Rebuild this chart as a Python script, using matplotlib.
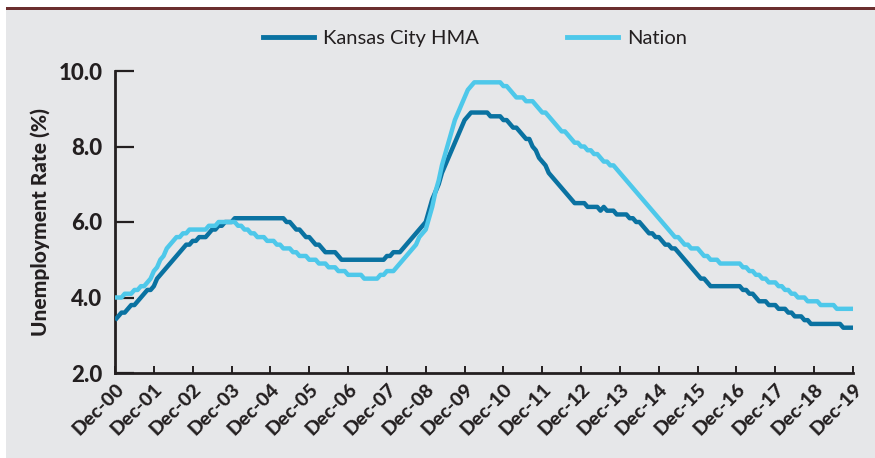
import matplotlib
matplotlib.use("Agg")
import matplotlib.pyplot as plt
from matplotlib.lines import Line2D
from matplotlib.patches import Rectangle

# 12-month average unemployment rate, monthly, Dec-2000 .. Dec-2019
kc_start = [3.4]  # Dec-00
kc_years = {
    2001: [3.5, 3.6, 3.6, 3.7, 3.8, 3.8, 3.9, 4.0, 4.1, 4.2, 4.2, 4.3],
    2002: [4.5, 4.6, 4.7, 4.8, 4.9, 5.0, 5.1, 5.2, 5.3, 5.4, 5.4, 5.5],
    2003: [5.5, 5.6, 5.6, 5.6, 5.7, 5.8, 5.8, 5.9, 5.9, 6.0, 6.0, 6.0],
    2004: [6.1, 6.1, 6.1, 6.1, 6.1, 6.1, 6.1, 6.1, 6.1, 6.1, 6.1, 6.1],
    2005: [6.1, 6.1, 6.1, 6.1, 6.0, 6.0, 5.9, 5.8, 5.8, 5.7, 5.6, 5.6],
    2006: [5.5, 5.4, 5.4, 5.3, 5.2, 5.2, 5.2, 5.2, 5.1, 5.0, 5.0, 5.0],
    2007: [5.0, 5.0, 5.0, 5.0, 5.0, 5.0, 5.0, 5.0, 5.0, 5.0, 5.0, 5.1],
    2008: [5.1, 5.2, 5.2, 5.2, 5.3, 5.4, 5.5, 5.6, 5.7, 5.8, 5.9, 6.0],
    2009: [6.3, 6.6, 6.8, 7.0, 7.3, 7.5, 7.7, 7.9, 8.1, 8.3, 8.5, 8.7],
    2010: [8.8, 8.9, 8.9, 8.9, 8.9, 8.9, 8.9, 8.8, 8.8, 8.8, 8.8, 8.7],
    2011: [8.7, 8.6, 8.5, 8.5, 8.4, 8.3, 8.2, 8.2, 8.0, 7.9, 7.7, 7.6],
    2012: [7.5, 7.3, 7.2, 7.1, 7.0, 6.9, 6.8, 6.7, 6.6, 6.5, 6.5, 6.5],
    2013: [6.5, 6.4, 6.4, 6.4, 6.4, 6.3, 6.4, 6.3, 6.3, 6.3, 6.2, 6.2],
    2014: [6.2, 6.2, 6.1, 6.1, 6.0, 6.0, 5.9, 5.8, 5.7, 5.7, 5.6, 5.6],
    2015: [5.5, 5.4, 5.4, 5.3, 5.3, 5.2, 5.1, 5.0, 4.9, 4.8, 4.7, 4.6],
    2016: [4.5, 4.5, 4.4, 4.3, 4.3, 4.3, 4.3, 4.3, 4.3, 4.3, 4.3, 4.3],
    2017: [4.3, 4.2, 4.2, 4.1, 4.1, 4.0, 3.9, 3.9, 3.9, 3.8, 3.8, 3.8],
    2018: [3.7, 3.7, 3.7, 3.6, 3.6, 3.5, 3.5, 3.5, 3.4, 3.4, 3.3, 3.3],
    2019: [3.3, 3.3, 3.3, 3.3, 3.3, 3.3, 3.3, 3.3, 3.2, 3.2, 3.2, 3.2],
}

nation_start = [4.0]  # Dec-00
nation_years = {
    2001: [4.0, 4.0, 4.1, 4.1, 4.1, 4.2, 4.2, 4.3, 4.3, 4.4, 4.5, 4.7],
    2002: [4.8, 5.0, 5.1, 5.3, 5.4, 5.5, 5.6, 5.6, 5.7, 5.7, 5.8, 5.8],
    2003: [5.8, 5.8, 5.8, 5.8, 5.9, 5.9, 5.9, 6.0, 6.0, 6.0, 6.0, 6.0],
    2004: [6.0, 5.9, 5.9, 5.8, 5.8, 5.7, 5.7, 5.6, 5.6, 5.6, 5.5, 5.5],
    2005: [5.5, 5.4, 5.4, 5.3, 5.3, 5.3, 5.2, 5.2, 5.1, 5.1, 5.1, 5.0],
    2006: [5.0, 5.0, 4.9, 4.9, 4.9, 4.8, 4.8, 4.8, 4.7, 4.7, 4.7, 4.6],
    2007: [4.6, 4.6, 4.6, 4.6, 4.5, 4.5, 4.5, 4.5, 4.5, 4.6, 4.6, 4.7],
    2008: [4.7, 4.7, 4.8, 4.9, 5.0, 5.1, 5.2, 5.3, 5.4, 5.6, 5.7, 5.8],
    2009: [6.1, 6.4, 6.8, 7.1, 7.5, 7.8, 8.1, 8.4, 8.7, 8.9, 9.1, 9.3],
    2010: [9.5, 9.6, 9.7, 9.7, 9.7, 9.7, 9.7, 9.7, 9.7, 9.7, 9.7, 9.6],
    2011: [9.6, 9.5, 9.4, 9.3, 9.3, 9.3, 9.2, 9.2, 9.2, 9.1, 9.0, 8.9],
    2012: [8.9, 8.8, 8.7, 8.6, 8.5, 8.4, 8.4, 8.3, 8.2, 8.1, 8.1, 8.0],
    2013: [8.0, 7.9, 7.9, 7.8, 7.8, 7.7, 7.6, 7.6, 7.5, 7.5, 7.4, 7.3],
    2014: [7.2, 7.1, 7.0, 6.9, 6.8, 6.7, 6.6, 6.5, 6.4, 6.3, 6.2, 6.1],
    2015: [6.0, 5.9, 5.8, 5.7, 5.6, 5.6, 5.5, 5.4, 5.4, 5.3, 5.3, 5.3],
    2016: [5.2, 5.1, 5.1, 5.0, 5.0, 5.0, 4.9, 4.9, 4.9, 4.9, 4.9, 4.9],
    2017: [4.9, 4.8, 4.8, 4.7, 4.7, 4.6, 4.6, 4.5, 4.5, 4.4, 4.4, 4.4],
    2018: [4.3, 4.3, 4.2, 4.2, 4.1, 4.1, 4.0, 4.0, 4.0, 3.9, 3.9, 3.9],
    2019: [3.9, 3.8, 3.8, 3.8, 3.8, 3.8, 3.7, 3.7, 3.7, 3.7, 3.7, 3.7],
}

tick_labels = ["Dec-%02d" % (y % 100) for y in range(2000, 2020)]

kc = kc_start + [v for y in sorted(kc_years) for v in kc_years[y]]
nation = nation_start + [v for y in sorted(nation_years) for v in nation_years[y]]
months = list(range(len(kc)))

bg = "#e6e7e9"
dark = "#0a72a1"
light = "#4ec8ea"
ink = "#231f20"

plt.rcParams["font.family"] = ["Lato", "DejaVu Sans"]

fig = plt.figure(figsize=(8.75, 4.58), dpi=100)
fig.patch.set_facecolor("white")
# grey panel and the dark top rule
fig.patches.append(Rectangle((6 / 875, 0), 1, 1 - 9 / 458, transform=fig.transFigure,
                             facecolor=bg, edgecolor="none", zorder=-20))
fig.patches.append(Rectangle((6 / 875, 1 - 10 / 458), 1, 3 / 458, transform=fig.transFigure,
                             facecolor="#6b2f2f", edgecolor="none", zorder=-19))

ax = fig.add_axes([115 / 875, 1 - 373 / 458, (853 - 115) / 875, (373 - 71) / 458])
ax.set_facecolor("none")
ax.set_zorder(5)

ax.plot(months, kc, color=dark, lw=3.2, solid_capstyle="butt", label="Kansas City HMA", zorder=3)
ax.plot(months, nation, color=light, lw=3.2, solid_capstyle="butt", label="Nation", zorder=4)

ax.set_xlim(0, 228)
ax.set_ylim(2, 10)
ax.set_yticks([2, 4, 6, 8, 10])
ax.set_yticklabels(["%.1f" % v for v in [2, 4, 6, 8, 10]], fontsize=16, fontweight="black", color=ink)
ax.set_xticks(range(0, 229, 12))
ax.set_xticklabels(tick_labels, rotation=45, ha="right", va="top", rotation_mode="anchor",
                   fontsize=14, fontweight="black", color=ink)

for s in ["top", "right"]:
    ax.spines[s].set_visible(False)
for s in ["left", "bottom"]:
    ax.spines[s].set_color(ink)
    ax.spines[s].set_linewidth(2)

ax.tick_params(axis="y", direction="in", length=14, width=1.6, color=ink, pad=9)
ax.tick_params(axis="x", direction="in", length=5, width=1.4, color=ink, pad=5)

ax.set_ylabel("Unemployment Rate (%)", fontsize=15, fontweight="black", color=ink, labelpad=6)

handles = [Line2D([], [], color=dark, lw=3.5), Line2D([], [], color=light, lw=3.5)]
fig.legend(handles, ["Kansas City HMA", "Nation"], loc="center", bbox_to_anchor=(475 / 875, 1 - 38 / 458),
           ncol=2, frameon=False, fontsize=14.5, handlelength=2.5, handletextpad=0.45,
           columnspacing=4.4, labelcolor=ink)

fig.savefig("out.png", dpi=100, facecolor=fig.get_facecolor())
